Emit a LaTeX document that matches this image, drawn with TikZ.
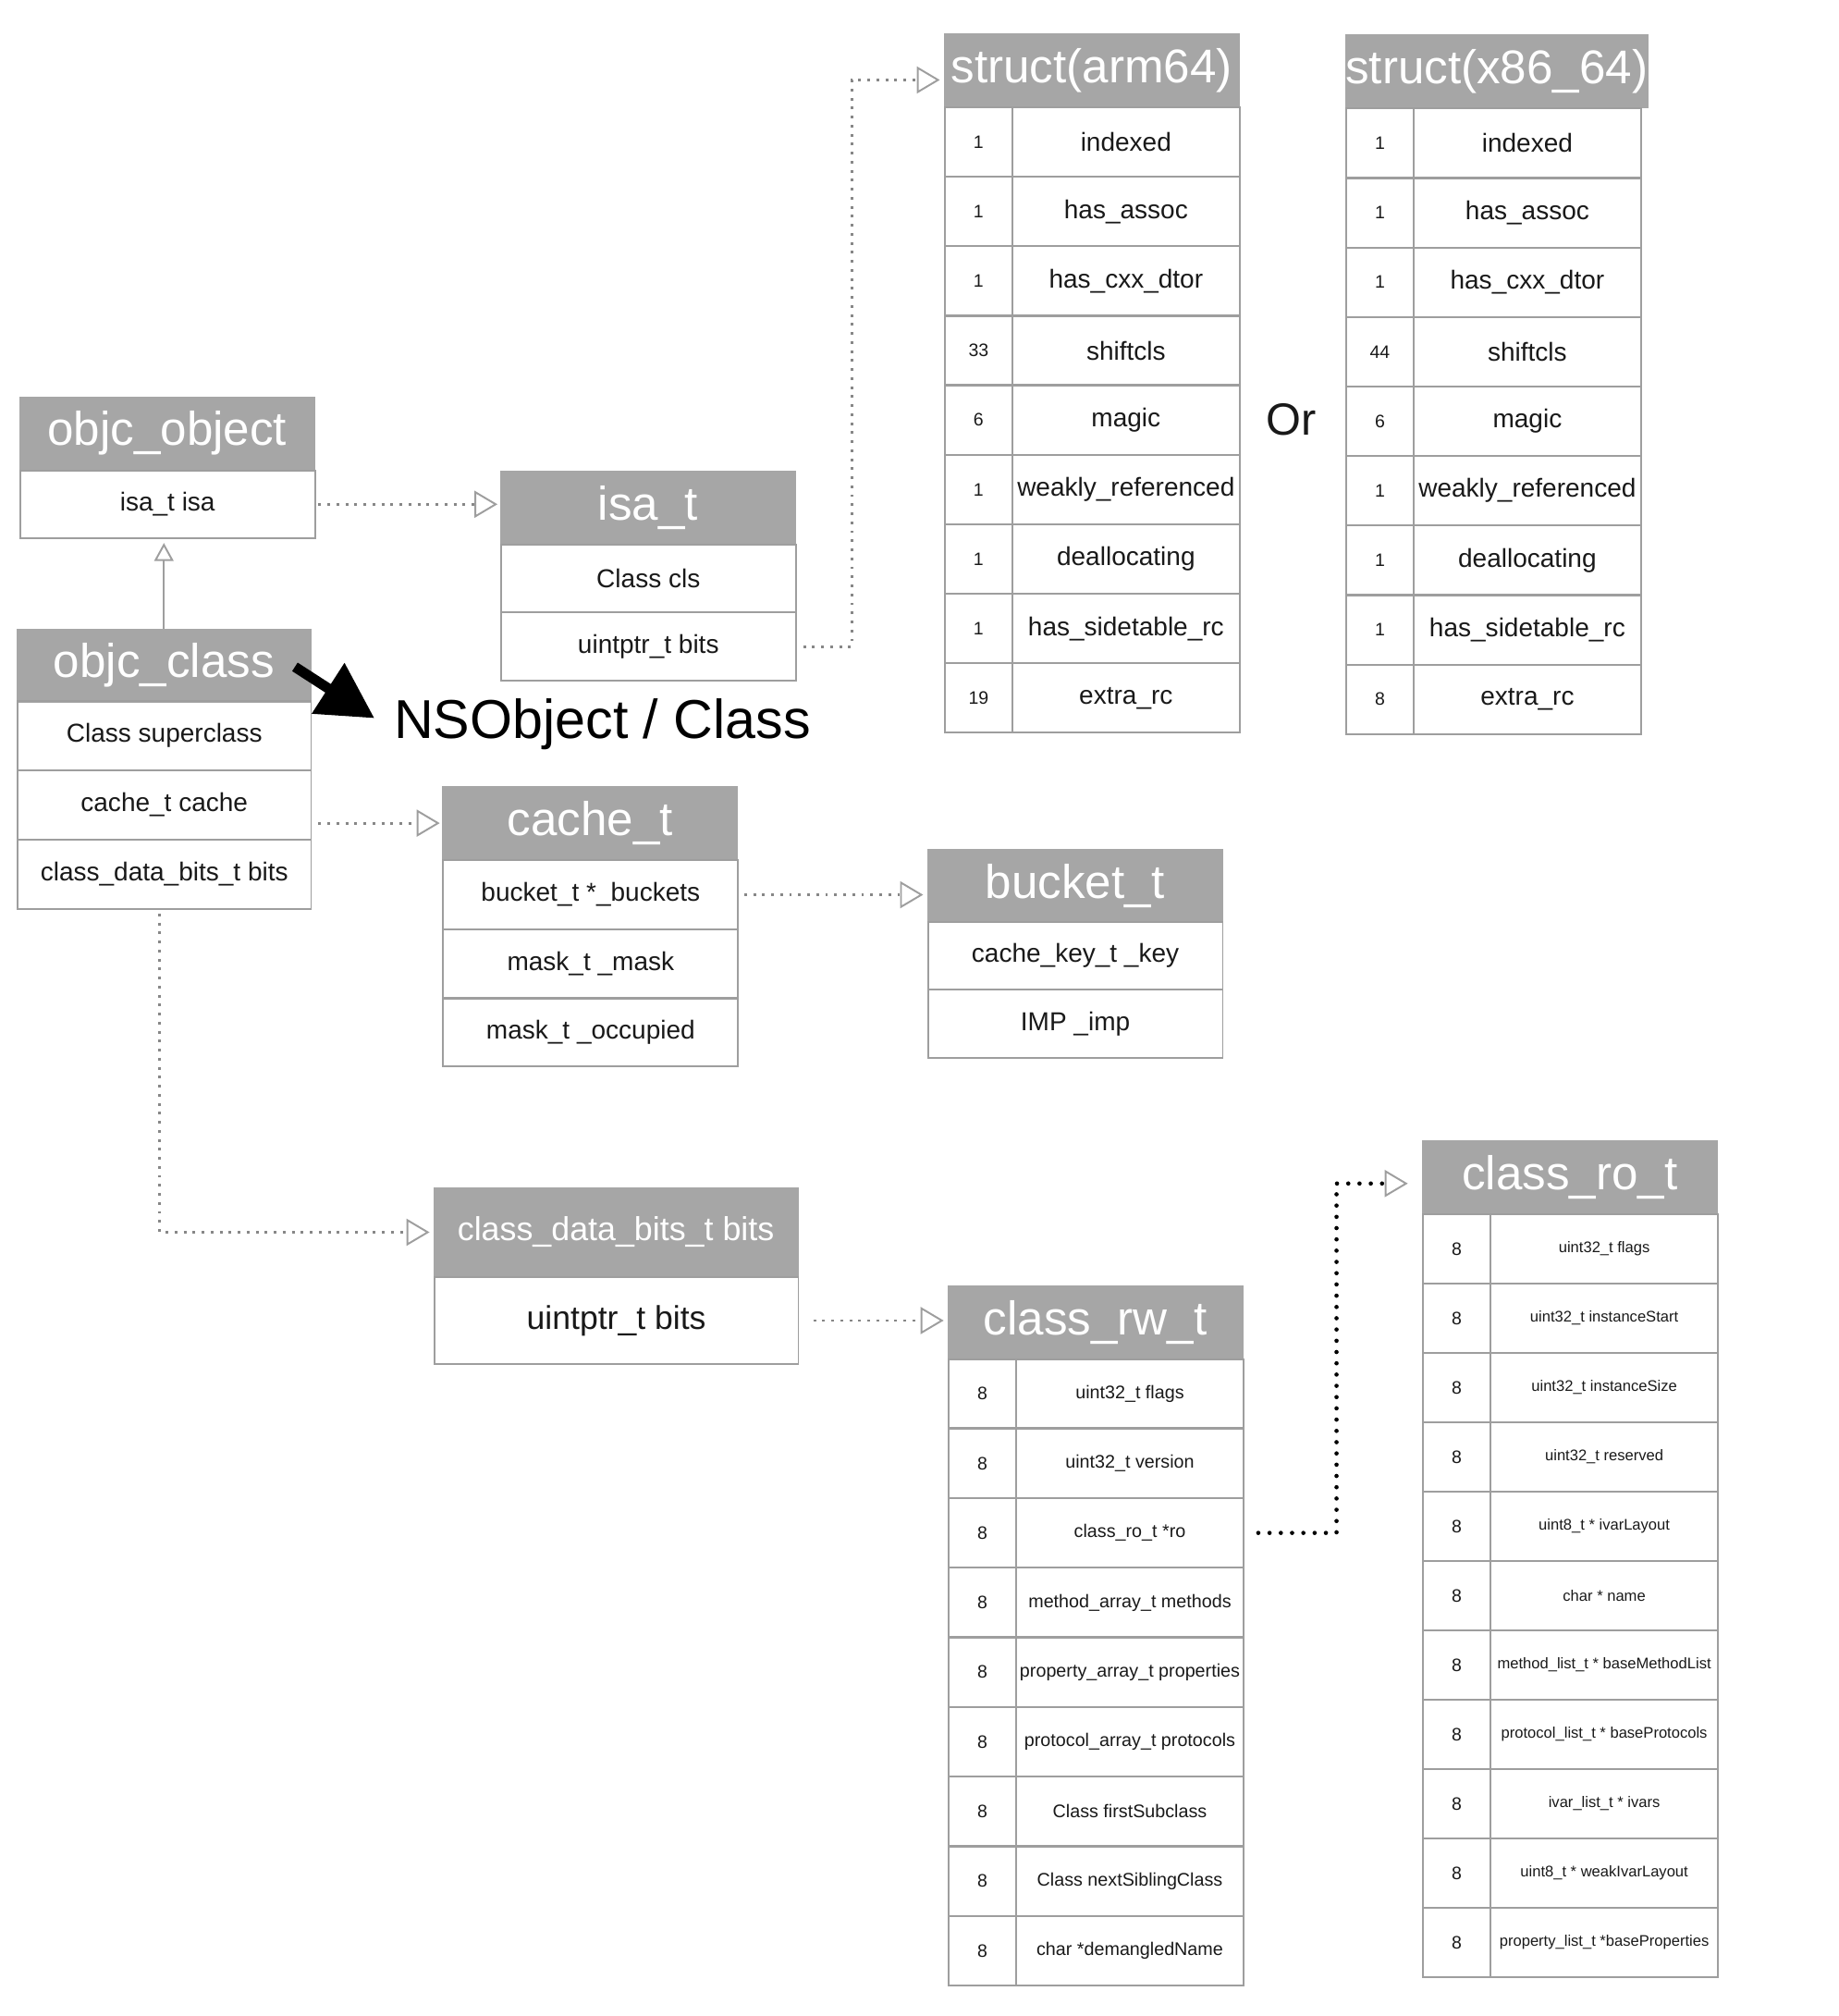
\documentclass[tikz,border=0pt]{standalone}
\usepackage{fontspec}
\setmainfont{Liberation Sans}
\usetikzlibrary{arrows.meta,calc,positioning}
\definecolor{headgray}{RGB}{166,166,166}
\definecolor{linegray}{RGB}{158,158,158}
\definecolor{dotgray}{RGB}{135,135,135}
\definecolor{txt}{RGB}{25,25,25}
\newcommand{\fsz}[1]{\fontsize{#1}{#1}\selectfont}

\tikzset{
  head/.style={fill=headgray, draw=headgray, text=white, anchor=north west, inner sep=0pt,
    minimum width=4.6cm, minimum height=1.14cm, font=\fsz{21pt}},
  cell/.style={draw=linegray, line width=0.8pt, anchor=north west, inner sep=0pt,
    minimum width=4.6cm, minimum height=1.08cm, text=txt, font=\fsz{11.5pt}},
  numcell/.style={cell, minimum width=1.06cm, font=\fsz{8pt}},
  fieldcell/.style={cell, minimum width=3.54cm},
  dep/.style={draw=dotgray, line width=1.2pt, dash pattern=on 1.2pt off 2.8pt,
    -{Triangle[open, length=0.36cm, width=0.42cm, color=linegray, line width=0.8pt]}},
  depblack/.style={dep, draw=black, line width=1.9pt, line cap=round, dash pattern=on 0pt off 5pt},
  inherit/.style={draw=linegray, line width=0.8pt,
    -{Triangle[open, length=0.28cm, width=0.3cm, line width=0.8pt]}},
  bigarrow/.style={draw=black, line width=4.5pt, -{Triangle[length=0.86cm, width=0.9cm]}}
}

\begin{document}
\begin{tikzpicture}[x=0.02cm, y=-0.02cm]
\useasboundingbox (0,0) rectangle (1434,1572);

% objc_object
\node[head] (objHead) at (15,309) {objc\_object};
\node[cell, minimum height=1.06cm] (objIsa) at (15,366) {isa\_t isa};

% isa_t
\node[head] (isaHead) at (390,367) {isa\_t};
\node[cell, minimum height=1.06cm] (isaCls) at (390,424) {Class cls};
\node[cell, minimum height=1.06cm] (isaBits) at (390,477) {uintptr\_t bits};

% objc_class
\node[head, minimum width=4.58cm] (clsHead) at (13,490) {objc\_class};
\node[cell, minimum width=4.58cm] (clsSuper) at (13,546) {Class superclass};
\node[cell, minimum width=4.58cm] (clsCache) at (13,600) {cache\_t cache};
\node[cell, minimum width=4.58cm] (clsBits) at (13,654) {class\_data\_bits\_t bits};

\node[anchor=west, inner sep=0pt, font=\fsz{24.3pt}] (nsLabel) at (307,565) {NSObject / Class};

% cache_t
\node[head] (cacheHead) at (345,613) {cache\_t};
\node[cell] (cacheBuckets) at (345,670) {bucket\_t *\_buckets};
\node[cell] (cacheMask) at (345,724) {mask\_t \_mask};
\node[cell] (cacheOcc) at (345,777) {mask\_t \_occupied};

% bucket_t
\node[head] (bucketHead) at (723,662) {bucket\_t};
\node[cell, minimum height=1.06cm] (bucketKey) at (723,718) {cache\_key\_t \_key};
\node[cell, minimum height=1.06cm] (bucketImp) at (723,771) {IMP \_imp};

% struct(arm64)
\node[head] (armHead) at (736,26) {struct(arm64)};
\foreach \n/\f [count=\i] in {1/indexed, 1/has\_assoc, 1/has\_cxx\_dtor, 33/shiftcls, 6/magic,
    1/weakly\_referenced, 1/deallocating, 1/has\_sidetable\_rc, 19/extra\_rc}{
  \node[numcell] (armN\i) at (736,{83+(\i-1)*54.2}) {\n};
  \node[fieldcell] (armF\i) at (789,{83+(\i-1)*54.2}) {\f};
}

\node[font=\fsz{20pt}, text=txt] (orLabel) at (1007,327) {Or};

% struct(x86_64)
\node[head] (x86Head) at (1049,27) {struct(x86\_64)};
\foreach \n/\f [count=\i] in {1/indexed, 1/has\_assoc, 1/has\_cxx\_dtor, 44/shiftcls, 6/magic,
    1/weakly\_referenced, 1/deallocating, 1/has\_sidetable\_rc, 8/extra\_rc}{
  \node[numcell] (x86N\i) at (1049,{84+(\i-1)*54.2}) {\n};
  \node[fieldcell] (x86F\i) at (1102,{84+(\i-1)*54.2}) {\f};
}

% class_data_bits_t
\node[head, minimum width=5.68cm, minimum height=1.38cm, font=\fsz{14.7pt}] (dataHead) at (338,926) {class\_data\_bits\_t bits};
\node[cell, minimum width=5.68cm, minimum height=1.36cm, font=\fsz{14.6pt}] (dataBits) at (338,995) {uintptr\_t bits};

% class_rw_t
\node[head] (rwHead) at (739,1002) {class\_rw\_t};
\foreach \f [count=\i] in {uint32\_t flags, uint32\_t version, class\_ro\_t *ro, method\_array\_t methods,
    property\_array\_t properties, protocol\_array\_t protocols, Class firstSubclass,
    Class nextSiblingClass, char *demangledName}{
  \node[numcell] (rwN\i) at (739,{1059+(\i-1)*54.3}) {8};
  \node[fieldcell, font=\fsz{8.1pt}] (rwF\i) at (792,{1059+(\i-1)*54.3}) {\f};
}

% class_ro_t
\node[head] (roHead) at (1109,889) {class\_ro\_t};
\foreach \f [count=\i] in {uint32\_t flags, uint32\_t instanceStart, uint32\_t instanceSize, uint32\_t reserved,
    uint8\_t * ivarLayout, char * name, method\_list\_t * baseMethodList, protocol\_list\_t * baseProtocols,
    ivar\_list\_t * ivars, uint8\_t * weakIvarLayout, property\_list\_t *baseProperties}{
  \node[numcell] (roN\i) at (1109,{946+(\i-1)*54.1}) {8};
  \node[fieldcell, font=\fsz{6.8pt}] (roF\i) at (1162,{946+(\i-1)*54.1}) {\f};
}

% connectors
\draw[dep, shorten <=0.04cm, shorten >=0.04cm] (objIsa.east) -- (objIsa.east -| isaHead.west);
\draw[inherit] (clsHead.north) -- ([yshift=-0.06cm]clsHead.north |- objIsa.south);
\coordinate (bigTail) at (230,520);
\draw[bigarrow] (bigTail) -- ([shift={(-0.3cm,0.1cm)}]nsLabel.west);
\draw[dep, shorten <=0.1cm, shorten >=0.04cm] (clsCache.east |- cacheHead.west) -- (cacheHead.west);
\draw[dep, shorten <=0.08cm, shorten >=0.06cm] (cacheBuckets.east) -- (cacheBuckets.east -| bucketHead.west);
\draw[dep, shorten <=0.1cm, shorten >=0.06cm] (isaBits.east) -- ++(43,0) |- ([yshift=-0.15cm]armHead.west);
\draw[dep, shorten <=0.06cm, shorten >=0.06cm] ([xshift=-0.07cm]clsBits.south) |- (dataHead.west);
\draw[dep, shorten <=0.22cm, shorten >=0.06cm] (dataBits.east) -- (dataBits.east -| rwHead.west);
\draw[depblack, shorten <=0.22cm, shorten >=0.22cm] (rwF3.east) -- ++(72,0) |- ([yshift=-0.1cm]roHead.west);
\end{tikzpicture}
\end{document}
